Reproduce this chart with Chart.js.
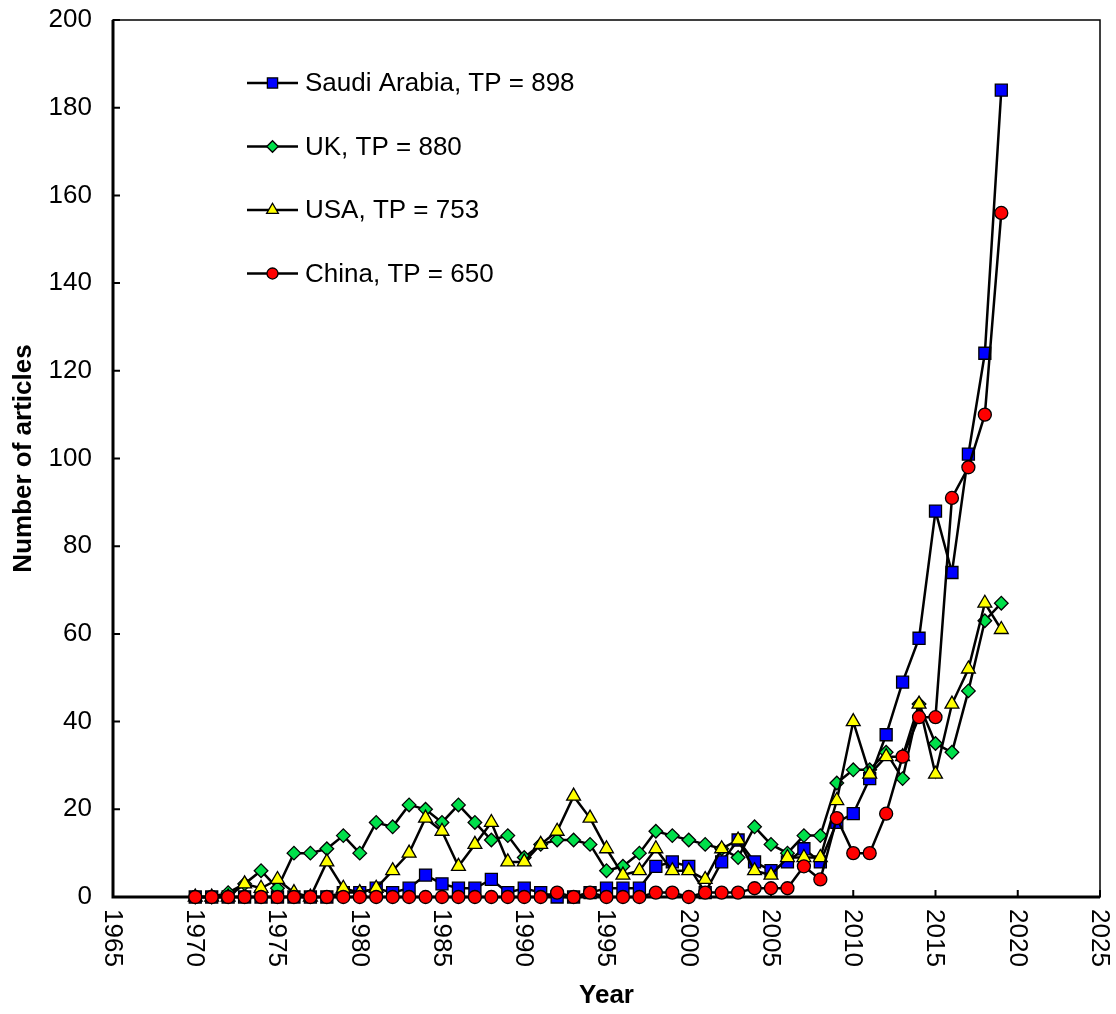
<!DOCTYPE html>
<html>
<head>
<meta charset="utf-8">
<script src="https://cdn.jsdelivr.net/npm/chart.js@4.4.1/dist/chart.umd.min.js"></script>
<style>
  body { margin: 0; background: #fff; }
  #wrap { width: 1116px; height: 1014px; }
</style>
</head>
<body>
<div id="wrap"><canvas id="myChart" width="1116" height="1014"></canvas></div>
<script>
// years and article counts
const years = [1970,1971,1972,1973,1974,1975,1976,1977,1978,1979,
               1980,1981,1982,1983,1984,1985,1986,1987,1988,1989,
               1990,1991,1992,1993,1994,1995,1996,1997,1998,1999,
               2000,2001,2002,2003,2004,2005,2006,2007,2008,2009,
               2010,2011,2012,2013,2014,2015,2016,2017,2018,2019];

const saudi = [0,0,0,0,0,0,0,0,0,1, 1,2,1,2,5,3,2,2,4,1, 2,1,0,0,1,2,2,2,7,8,
               7,1,8,13,8,6,8,11,8,17, 19,27,37,49,59,88,74,101,124,184];
const uk    = [0,0,1,3,6,2,10,10,11,14, 10,17,16,21,20,17,21,17,13,14, 9,12,13,13,12,6,7,10,15,14,
               13,12,11,9,16,12,10,14,14,26, 29,29,33,27,44,35,33,47,63,67];
const usa   = [0,0,0,3,2,4,1,0,8,2, 1,2,6,10,18,15,7,12,17,8, 8,12,15,23,18,11,5,6,11,6,
               6,4,11,13,6,5,9,9,9,22, 40,28,32,32,44,28,44,52,67,61];
const china = [0,0,0,0,0,0,0,0,0,0, 0,0,0,0,0,0,0,0,0,0, 0,0,1,0,1,0,0,0,1,1,
               0,1,1,1,2,2,2,7,4,18, 10,10,19,32,41,41,91,98,110,156];

const seriesNames = ['Saudi Arabia, TP = 898', 'UK, TP = 880', 'USA, TP = 753', 'China, TP = 650'];
const xMin = 1965, xMax = 2025, xStep = 5;
const yMin = 0, yMax = 200, yStep = 20;

const FONT = "'Liberation Sans', Arial, sans-serif";

function pts(vals) {
  return years.map((yr, i) => ({ x: yr, y: vals[i] }));
}

function series(label, vals, style, color, radius, order) {
  return {
    label: label,
    data: pts(vals),
    borderColor: '#000',
    borderWidth: 2.5,
    pointStyle: style,
    pointRadius: radius,
    pointBackgroundColor: color,
    pointBorderColor: '#000',
    pointBorderWidth: 1.3,
    tension: 0,
    clip: false,
    order: order
  };
}

// frame, inward tick marks, rotated year labels and legend
const decor = {
  id: 'decor',
  beforeDatasetsDraw(chart) {
    const { ctx, chartArea: a, scales } = chart;
    ctx.save();
    ctx.strokeStyle = '#000';
    ctx.lineWidth = 1.5;
    ctx.strokeRect(a.left, a.top, a.right - a.left, a.bottom - a.top);
    ctx.lineWidth = 3;
    ctx.beginPath();
    ctx.moveTo(a.left, a.top);
    ctx.lineTo(a.left, a.bottom);
    ctx.lineTo(a.right, a.bottom);
    ctx.stroke();
    ctx.lineWidth = 2;
    ctx.beginPath();
    scales.y.ticks.forEach(t => {
      const py = scales.y.getPixelForValue(t.value);
      ctx.moveTo(a.left, py);
      ctx.lineTo(a.left + 7, py);
    });
    scales.x.ticks.forEach(t => {
      const px = scales.x.getPixelForValue(t.value);
      ctx.moveTo(px, a.bottom);
      ctx.lineTo(px, a.bottom - 7);
    });
    ctx.stroke();
    ctx.restore();
  },
  afterDraw(chart) {
    const { ctx, chartArea: a, scales } = chart;
    ctx.save();
    ctx.fillStyle = '#000';
    ctx.font = '26px ' + FONT;
    ctx.textAlign = 'left';
    ctx.textBaseline = 'middle';
    scales.x.ticks.forEach(t => {
      const px = scales.x.getPixelForValue(t.value);
      ctx.save();
      ctx.translate(px, a.bottom + 12);
      ctx.rotate(Math.PI / 2);
      ctx.fillText(String(t.value), 0, 1);
      ctx.restore();
    });

    // legend
    ctx.font = '26px ' + FONT;
    chart.data.datasets.forEach((ds, i) => {
      const ly = 83 + i * 63.5;
      ctx.strokeStyle = '#000';
      ctx.lineWidth = 2.5;
      ctx.beginPath();
      ctx.moveTo(247, ly);
      ctx.lineTo(298, ly);
      ctx.stroke();
      ctx.fillStyle = ds.pointBackgroundColor;
      ctx.lineWidth = 1.3;
      Chart.helpers.drawPoint(ctx, {
        pointStyle: ds.pointStyle,
        radius: ds.pointRadius * 0.85,
        borderWidth: 1.3,
        rotation: 0
      }, 272.5, ly);
      ctx.fillStyle = '#000';
      ctx.fillText(ds.label, 305, ly + 1);
    });
    ctx.restore();
  }
};

const ctx = document.getElementById('myChart').getContext('2d');
window.myChart = new Chart(ctx, {
  type: 'line',
  data: {
    datasets: [
      series(seriesNames[0], saudi, 'rect', '#0000FF', 8.5, 4),
      series(seriesNames[1], uk, 'rectRot', '#00E04A', 6.8, 3),
      series(seriesNames[2], usa, 'triangle', '#FFFF00', 8, 2),
      series(seriesNames[3], china, 'circle', '#FF0000', 6.5, 1)
    ]
  },
  options: {
    responsive: false,
    animation: false,
    devicePixelRatio: 1,
    layout: { padding: { top: 20, right: 16, left: 0, bottom: 0 } },
    plugins: {
      legend: { display: false },
      tooltip: { enabled: false }
    },
    scales: {
      x: {
        type: 'linear',
        min: xMin,
        max: xMax,
        grid: { display: false, drawTicks: false },
        border: { display: false },
        ticks: { display: false, stepSize: xStep },
        title: {
          display: true,
          text: 'Year',
          color: '#000',
          font: { family: FONT, size: 26, weight: 'bold' },
          padding: { top: 0, bottom: 3 }
        },
        afterFit(scale) { scale.height = 117; }
      },
      y: {
        min: yMin,
        max: yMax,
        grid: { display: false, drawTicks: false },
        border: { display: false },
        ticks: {
          stepSize: yStep,
          color: '#000',
          padding: 21,
          font: { family: FONT, size: 26 }
        },
        title: {
          display: true,
          text: 'Number of articles',
          color: '#000',
          font: { family: FONT, size: 26, weight: 'bold' },
          padding: { top: 8, bottom: 0 }
        },
        afterFit(scale) {
          scale.width = 113;
          scale.paddingTop = 0;
          scale.paddingBottom = 0;
        }
      }
    }
  },
  plugins: [decor]
});
</script>
</body>
</html>
